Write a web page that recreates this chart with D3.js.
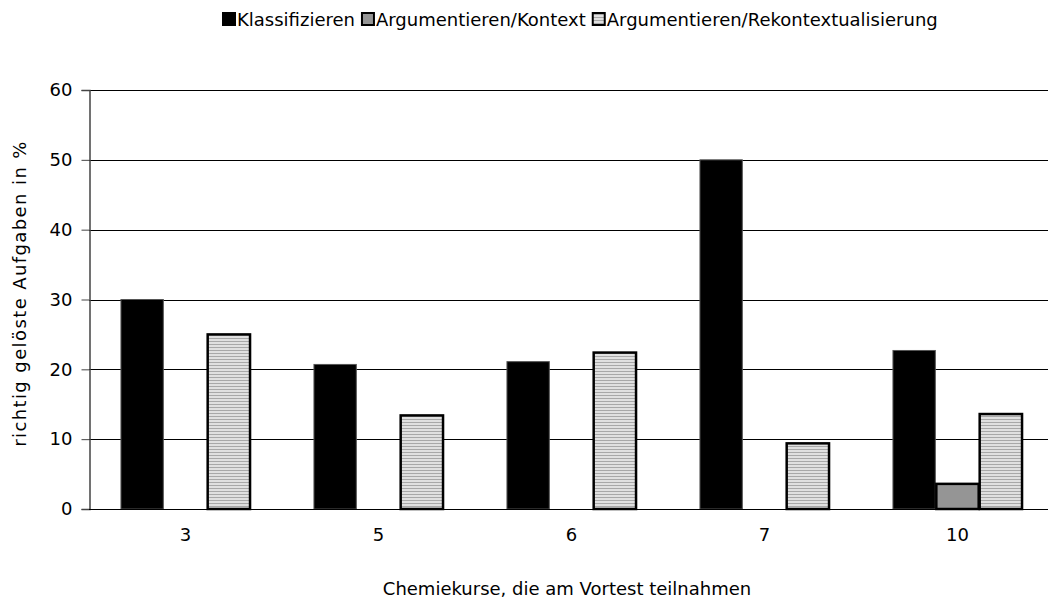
<!DOCTYPE html>
<html>
<head>
<meta charset="utf-8">
<script src="https://cdn.jsdelivr.net/npm/d3@7"></script>
<style>
  body { margin: 0; background: #fff; }
  text { font-family: "DejaVu Sans", sans-serif; fill: #000; }
</style>
</head>
<body>
<div id="chart"></div>
<script>
// Kurse und Werte (richtig gelöste Aufgaben in %)
const categories = ["3", "5", "6", "7", "10"];
const seriesNames = ["Klassifizieren", "Argumentieren/Kontext", "Argumentieren/Rekontextualisierung"];
const klassifizieren = [30, 20.7, 21.1, 50, 22.7];
const kontext = [0, 0, 0, 0, 3.6];
const rekontext = [25, 13.4, 22.4, 9.4, 13.6];
const yTicks = [0, 10, 20, 30, 40, 50, 60];

const width = 1048, height = 603;
const margin = { left: 89, top: 90, bottom: 94 };
const plotRight = 1054;

const svg = d3.select("#chart").append("svg")
    .attr("width", width)
    .attr("height", height);

// stripe pattern for the third series
const defs = svg.append("defs");
const pat = defs.append("pattern")
    .attr("id", "stripes")
    .attr("patternUnits", "userSpaceOnUse")
    .attr("width", 6).attr("height", 3);
pat.append("rect").attr("width", 6).attr("height", 3).attr("fill", "#e0e0e0");
pat.append("rect").attr("y", 2).attr("width", 6).attr("height", 1).attr("fill", "#a8a8a8");

const fills = ["#000", "#959595", "url(#stripes)"];
const strokes = ["#555", "#000", "#000"];

const x0 = d3.scaleBand()
    .domain(categories)
    .range([margin.left, plotRight])
    .paddingInner(0.326)
    .paddingOuter(0.163);

const x1 = d3.scaleBand()
    .domain(d3.range(3))
    .range([0, x0.bandwidth()]);

const y = d3.scaleLinear()
    .domain([0, 60])
    .range([height - margin.bottom, margin.top]);

// gridlines
svg.append("g")
    .selectAll("line")
    .data(yTicks)
    .join("line")
    .attr("x1", margin.left).attr("x2", width)
    .attr("y1", d => Math.round(y(d)) + 0.5).attr("y2", d => Math.round(y(d)) + 0.5)
    .attr("stroke", "#000").attr("stroke-width", 1);

// y axis
const yAxis = svg.append("g")
    .attr("transform", `translate(${margin.left + 0.5},0)`)
    .call(d3.axisLeft(y).tickValues(yTicks).tickSize(8).tickPadding(9));
yAxis.select(".domain").attr("stroke", "#444").attr("stroke-width", 1.5);
yAxis.selectAll(".tick line").attr("stroke", "#444");
yAxis.selectAll("text").style("font-size", "18px").attr("fill", "#000");

// bars
const rows = categories.map((c, i) => ({ c, vals: [klassifizieren[i], kontext[i], rekontext[i]] }));
const groups = svg.append("g").selectAll("g")
    .data(rows)
    .join("g")
    .attr("transform", d => `translate(${x0(d.c)},0)`);

groups.selectAll("rect")
    .data(d => d.vals.map((v, k) => ({ v, k })).filter(e => e.v > 0))
    .join("rect")
    .attr("x", d => x1(d.k) + 0.5)
    .attr("width", x1.bandwidth() - 1)
    .attr("y", d => y(d.v))
    .attr("height", d => y(0) - y(d.v))
    .attr("fill", d => fills[d.k])
    .attr("stroke", d => strokes[d.k])
    .attr("stroke-width", d => d.k === 0 ? 1 : 2.5);

// x axis baseline and labels
svg.append("line")
    .attr("x1", margin.left).attr("x2", width)
    .attr("y1", Math.round(y(0)) + 0.5).attr("y2", Math.round(y(0)) + 0.5)
    .attr("stroke", "#000");

svg.append("g").selectAll("text")
    .data(categories)
    .join("text")
    .attr("x", d => x0(d) + x0.bandwidth() / 2)
    .attr("y", y(0) + 32)
    .attr("text-anchor", "middle")
    .style("font-size", "18px")
    .text(d => d);

// axis titles
svg.append("text")
    .attr("x", 567).attr("y", 595)
    .attr("text-anchor", "middle")
    .style("font-size", "18px")
    .text("Chemiekurse, die am Vortest teilnahmen");

svg.append("text")
    .attr("transform", `translate(26,${(y(0) + y(60)) / 2 - 6}) rotate(-90)`)
    .attr("text-anchor", "middle")
    .style("font-size", "18px")
    .style("letter-spacing", "1.4px")
    .text("richtig gelöste Aufgaben in %");

// legend, laid out left to right and centred
const legend = svg.append("g");
const items = legend.selectAll("g")
    .data(seriesNames)
    .join("g");
items.append("rect")
    .attr("x", 1).attr("y", 13)
    .attr("width", 12).attr("height", 12)
    .attr("fill", (d, i) => fills[i])
    .attr("stroke", "#000").attr("stroke-width", 2);
items.append("text")
    .attr("x", 15).attr("y", 26)
    .style("font-size", "18px")
    .text(d => d);

let cursor = 0;
items.each(function () {
    const w = d3.select(this).select("text").node().getComputedTextLength();
    d3.select(this).attr("transform", `translate(${cursor},0)`);
    cursor += 15 + w + 6;
});
const total = cursor - 6;
legend.attr("transform", `translate(${Math.round(580 - total / 2)},0)`);
</script>
</body>
</html>
